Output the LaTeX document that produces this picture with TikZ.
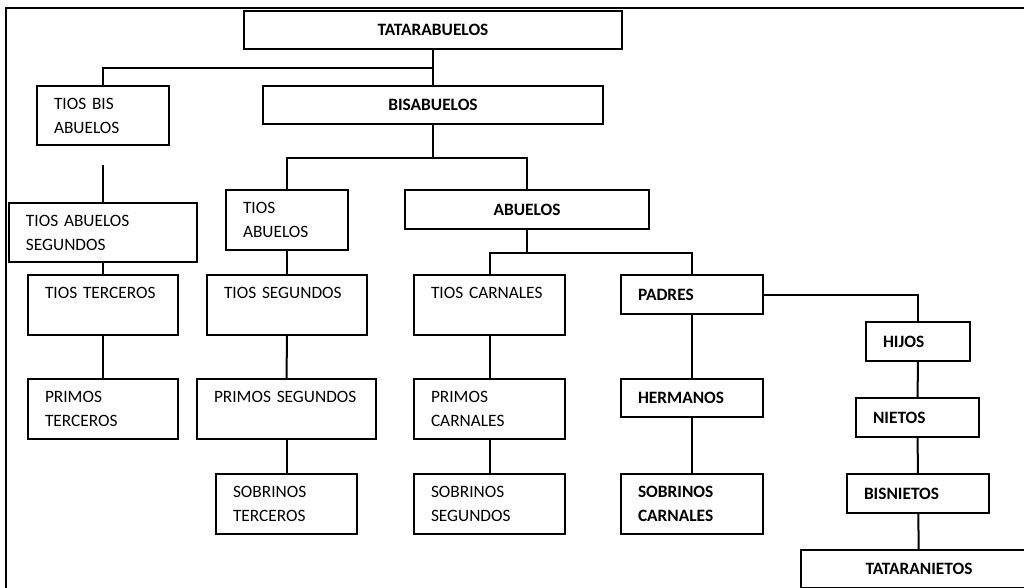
\documentclass[tikz,border=0pt]{standalone}
\usepackage{fontspec}
\setmainfont{Carlito}
\tikzset{every picture/.style={line width=0.75pt}}
\tikzset{
  famBox/.style={draw, line width=1.5pt, anchor=north west, inner xsep=12.75pt, inner ysep=0pt, align=left, font=\fontsize{13}{18}\selectfont},
  boldBox/.style={famBox, font=\fontsize{13}{18}\selectfont\bfseries},
  headBox/.style={boldBox, align=center},
  sz/.style 2 args={minimum width=#1*0.75pt, minimum height=#2*0.75pt, text width=#1*0.75pt-25.5pt},
  link/.style={line width=1.5pt},
}

\begin{document}
\begin{tikzpicture}[x=0.75pt,y=0.75pt,yscale=-1,xscale=1]
	\useasboundingbox (0,0) rectangle (1024,587);
	\clip (0,0) rectangle (1024,587);
	
	%Frame
	\draw [line width=1.1pt] (6,8) rectangle (1040,600);
	
	%Shape: Rectangle [generations]
	\node [headBox, sz={378}{38}] (tatarabuelos) at (243,10) {TATARABUELOS};
	\node [headBox, sz={340}{38}] (bisabuelos) at (262,85) {BISABUELOS};
	\node [headBox, sz={244}{39}] (abuelos) at (404,189) {ABUELOS};
	\node [boldBox, sz={142}{39}] (padres) at (620,274) {PADRES};
	\node [boldBox, sz={104}{39}] (hijos) at (865,321) {HIJOS};
	\node [boldBox, sz={123}{39}] (nietos) at (855,397) {NIETOS};
	\node [boldBox, sz={142}{39}] (bisnietos) at (846,473) {BISNIETOS};
	\node [headBox, sz={236}{38}] (tataranietos) at (800,549) {TATARANIETOS};
	
	%Shape: Rectangle [left branches]
	\node [famBox, sz={132}{59}] (tiosBis) at (36,85) {TIOS BIS\\ABUELOS};
	\node [famBox, sz={188}{59}] (tiosAbSeg) at (8,202) {TIOS ABUELOS\\SEGUNDOS};
	\node [famBox, sz={150}{60}] (tiosTerceros) at (27,274) {TIOS TERCEROS\\\mbox{}};
	\node [famBox, sz={150}{60}] (primosTerceros) at (27,378) {PRIMOS\\TERCEROS};
	
	\node [famBox, sz={122}{60}] (tiosAbuelos) at (225,189) {TIOS\\ABUELOS};
	\node [famBox, sz={160}{60}] (tiosSegundos) at (206,274) {TIOS SEGUNDOS\\\mbox{}};
	\node [famBox, sz={179}{60}] (primosSegundos) at (196,378) {PRIMOS SEGUNDOS\\\mbox{}};
	\node [famBox, sz={141}{60}] (sobrinosTerceros) at (215,473) {SOBRINOS\\TERCEROS};
	
	\node [famBox, sz={151}{60}] (tiosCarnales) at (413,274) {TIOS CARNALES\\\mbox{}};
	\node [famBox, sz={151}{60}] (primosCarnales) at (413,378) {PRIMOS\\CARNALES};
	\node [famBox, sz={151}{60}] (sobrinosSegundos) at (413,473) {SOBRINOS\\SEGUNDOS};
	
	\node [boldBox, sz={142}{38}] (hermanos) at (620,378) {HERMANOS};
	\node [boldBox, sz={142}{60}] (sobrinosCarnales) at (620,473) {SOBRINOS\\CARNALES};
	
	%Straight Lines
	\draw [link] (tatarabuelos) -- (bisabuelos);
	\draw [link] (tatarabuelos.south) ++(0,18) -| (tiosBis.north);
	\draw [link] (bisabuelos.south) -- ++(0,33) coordinate (splitB);
	\draw [link] (tiosAbuelos.north) |- (splitB) -| (abuelos.north);
	\draw [link] (abuelos.south) -- ++(0,23) coordinate (splitA);
	\draw [link] (tiosCarnales.north) |- (splitA) -| (padres.north);
	
	\draw [link] (tiosBis.south) ++(0,19) -- (tiosAbSeg.north);
	\draw [link] (tiosAbSeg) -- (tiosTerceros);
	\draw [link] (tiosTerceros) -- (primosTerceros);
	
	\draw [link] (tiosAbuelos) -- (tiosSegundos);
	\draw [link] (tiosSegundos) -- (primosSegundos);
	\draw [link] (primosSegundos) -- (sobrinosTerceros);
	
	\draw [link] (tiosCarnales) -- (primosCarnales);
	\draw [link] (primosCarnales) -- (sobrinosSegundos);
	
	\draw [link] (padres) -- (hermanos);
	\draw [link] (hermanos) -- (sobrinosCarnales);
	\draw [link] (padres.east) -| (hijos.north);
	\draw [link] (hijos) -- (nietos);
	\draw [link] (nietos) -- (bisnietos);
	\draw [link] (bisnietos) -- (tataranietos);
\end{tikzpicture}
\end{document}
